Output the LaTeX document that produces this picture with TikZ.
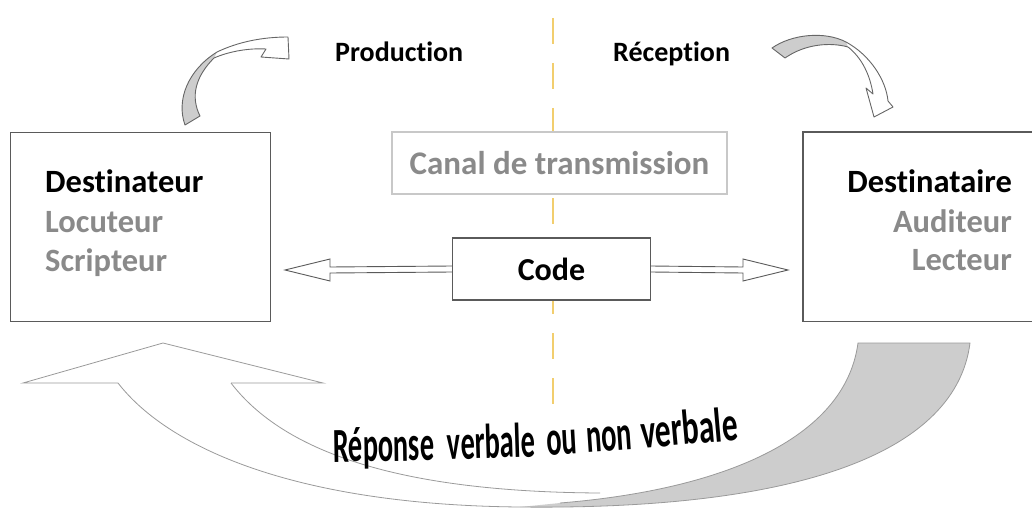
\documentclass[tikz,border=0pt]{standalone}
\usepackage{fontspec}
\setmainfont{Carlito}[Ligatures=NoCommon]
\definecolor{dashyellow}{HTML}{F2CE6E}
\definecolor{txtgray}{HTML}{8A8A8A}
\definecolor{framegray}{HTML}{5A5A5A}
\definecolor{lightframe}{HTML}{C8C8C8}
\definecolor{shadegray}{HTML}{CDCDCD}
\definecolor{outlinegray}{HTML}{9A9A9A}
\newcommand{\narrowword}[2][0.58]{\scalebox{#1}[1]{#2}}
\begin{document}
\begin{tikzpicture}[x=1pt,y=-1pt,
  boxnode/.style={draw=framegray,line width=1.1pt,fill=white,inner sep=0pt},
  lbl/.style={font=\bfseries\fontsize{32.5}{36}\selectfont,inner sep=0pt},
  sublbl/.style={lbl,text=txtgray},
  toplbl/.style={font=\bfseries\fontsize{28}{32}\selectfont,inner sep=0pt},
  dblarrow/.style={draw=framegray,line width=0.9pt,fill=white,line join=miter},
  curvarrow/.style={draw=black!60,line width=0.9pt,line join=round},
  bigarrow/.style={draw=outlinegray,line width=0.8pt},
  wa/.style={font=\bfseries\fontsize{49}{54}\selectfont,inner sep=0pt,sloped,anchor=base west}
]
\useasboundingbox (0,0) rectangle (1032,508);
% dashed separator
\coordinate (dtop) at (553,18);
\coordinate (dbot) at (553,418);
\draw[dashyellow,line width=2.2pt,dash pattern=on 26pt off 19pt] (dtop) -- (dbot);

% boxes
\node[boxnode,minimum width=260pt,minimum height=189pt,anchor=north west] (src) at (10,132) {};
\node[inner sep=0pt,minimum width=240pt,minimum height=189pt,anchor=north west] (dst) at (803,132) {};
\draw[framegray,line width=1.1pt] (dst.north east) -- (dst.north west) -- (dst.south west) -- (dst.south east);
\node[boxnode,draw=lightframe,minimum width=335pt,minimum height=62pt] (canal) at (559.5,163) {};
\node[lbl,text=txtgray,font=\bfseries\fontsize{33}{36}\selectfont] (canaltxt) at (559.5,163) {Canal de transmission};
\node[boxnode,minimum width=198pt,minimum height=62pt] (code) at (551.5,269) {};
\node[lbl,font=\bfseries\fontsize{32}{36}\selectfont] (codetxt) at (code.center) {Code};

% texts in boxes
\node[lbl,anchor=base west] (t1) at (45,192) {Destinateur};
\node[sublbl,anchor=base west] (t2) at (45,232) {Locuteur};
\node[sublbl,anchor=base west] (t3) at (45,271) {Scripteur};
\node[lbl,anchor=base east] (r1) at (1012,192) {Destinataire};
\node[sublbl,anchor=base east] (r2) at (1012,232) {Auditeur};
\node[sublbl,anchor=base east] (r3) at (1012,270) {Lecteur};

% top labels
\node[toplbl,anchor=base west] (prod) at (335,62) {Production};
\node[toplbl,anchor=base west] (recp) at (613,62) {Réception};

% double arrows
\coordinate (ltip) at (285,270);
\coordinate (rtip) at (788,270);
\draw[dblarrow] ([yshift=3pt]code.west) -- (330,267) -- (330,259) -- (ltip) -- (330,281) -- (330,273) -- ([yshift=-3pt]code.west);
\draw[dblarrow] ([yshift=3pt]code.east) -- (743,267) -- (743,259) -- (rtip) -- (743,281) -- (743,273) -- ([yshift=-3pt]code.east);

% top-left curved arrow
\fill[shadegray] (185,125) .. controls (176,100) and (188,70) .. (217,52) -- (214,58) .. controls (196,76) and (190,96) .. (200,116) -- cycle;
\draw[curvarrow] (185,125) .. controls (176,100) and (188,70) .. (217,52) .. controls (238,42) and (262,37) .. (288,37) -- (289,59) -- (261,57) -- (266,49) .. controls (250,48) and (230,51) .. (214,58) .. controls (196,76) and (190,96) .. (200,116) -- cycle;

% top-right curved arrow
\fill[shadegray] (772,48) .. controls (792,34) and (825,31) .. (846,42) -- (848,47) .. controls (830,42) and (805,44) .. (785,58) -- cycle;
\draw[curvarrow] (772,48) .. controls (792,34) and (825,31) .. (846,42) .. controls (870,55) and (886,80) .. (888,101) -- (893,107) -- (874,117) -- (866,88) -- (873,94) .. controls (870,75) and (862,58) .. (848,47) .. controls (830,42) and (805,44) .. (785,58) -- cycle;

% big bottom arrow
\fill[white] (23,383) -- (163,343) -- (323,383) -- (231,383) .. controls (290,460) and (420,492) .. (600,493) -- (858,343) -- (970,343) .. controls (955,460) and (780,510) .. (520,507) .. controls (300,505) and (170,450) .. (118,383) -- cycle;
\fill[shadegray] (858,343) -- (970,343) .. controls (955,460) and (780,510) .. (520,507) -- (560,503) .. controls (720,490) and (845,440) .. (858,343) -- cycle;
\draw[bigarrow,line join=miter] (118,383) -- (23,383) -- (163,343) -- (323,383) -- (231,383);
\draw[bigarrow] (231,383) .. controls (290,460) and (420,492) .. (600,493);
\draw[bigarrow] (118,383) .. controls (170,450) and (300,505) .. (520,507) .. controls (780,510) and (955,460) .. (970,343) -- (858,343) .. controls (845,440) and (720,490) .. (560,503);

% curved caption, word by word along a gentle arc
\path (333,462) .. controls (470,460) and (620,455) .. (742,437)
  node[wa,pos=0] (w1) {\narrowword{Réponse}}
  node[wa,pos=0.274] (w2) {\narrowword{verbale}}
  node[wa,pos=0.51] (w3) {\narrowword{ou}}
  node[wa,pos=0.606] (w4) {\narrowword{non}}
  node[wa,pos=0.74] (w5) {\narrowword[0.64]{verbale}};
\end{tikzpicture}
\end{document}
